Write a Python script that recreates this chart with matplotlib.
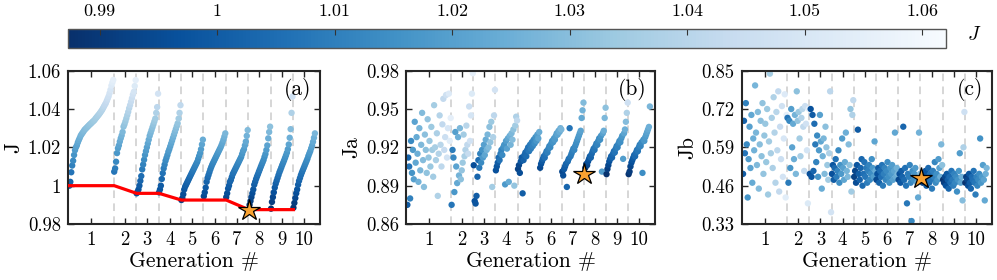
import numpy as np
import matplotlib
matplotlib.use('Agg')
import matplotlib.pyplot as plt
from matplotlib.ticker import FuncFormatter

plt.rcParams['font.family'] = 'serif'
plt.rcParams['font.serif'] = ['cmr10']
plt.rcParams['mathtext.fontset'] = 'cm'
plt.rcParams['axes.formatter.use_mathtext'] = True

# cost J of every individual, sorted within each generation
J_by_gen = [
    [1.000, 1.002, 1.007, 1.0105, 1.013, 1.016, 1.0185, 1.020, 1.021, 1.0225, 1.0237, 1.0248,
     1.026, 1.0268, 1.0275, 1.0282, 1.029, 1.0295, 1.030, 1.0305, 1.031, 1.0315, 1.032, 1.0324,
     1.0329, 1.0334, 1.0338, 1.0343, 1.035, 1.0356, 1.0362, 1.0368, 1.0374, 1.0381, 1.0388, 1.0395,
     1.0404, 1.0413, 1.0422, 1.043, 1.0442, 1.0454, 1.0466, 1.0482, 1.050, 1.0522, 1.0538, 1.0552],
    [1.0073, 1.009, 1.0125, 1.017, 1.0195, 1.021, 1.023, 1.0247, 1.0262, 1.028, 1.0308, 1.032,
     1.0335, 1.0351, 1.0368, 1.0385, 1.0404, 1.042, 1.0438, 1.0456, 1.0475, 1.049, 1.052, 1.0551],
    [0.996, 0.9968, 0.998, 1.000, 1.0025, 1.005, 1.0085, 1.011, 1.0135, 1.016, 1.018, 1.020,
     1.022, 1.024, 1.026, 1.0275, 1.029, 1.0305, 1.032, 1.0335, 1.035, 1.038, 1.041, 1.048],
    [0.9965, 0.998, 1.000, 1.0035, 1.0065, 1.009, 1.011, 1.013, 1.0145, 1.016, 1.0177, 1.019,
     1.0205, 1.022, 1.0235, 1.025, 1.0265, 1.028, 1.0295, 1.031, 1.0325, 1.035, 1.038, 1.042],
    [0.9925, 0.9935, 0.9955, 0.998, 0.9995, 1.0005, 1.0015, 1.0025, 1.0035, 1.0045, 1.0055, 1.0065,
     1.0075, 1.0085, 1.0095, 1.0105, 1.0115, 1.0125, 1.014, 1.0155, 1.017, 1.019, 1.0215, 1.024],
    [0.9945, 0.9965, 0.999, 1.002, 1.004, 1.0055, 1.007, 1.0085, 1.0098, 1.011, 1.012, 1.013,
     1.014, 1.015, 1.016, 1.017, 1.018, 1.019, 1.020, 1.0212, 1.0225, 1.024, 1.0256, 1.0273],
    [0.994, 0.996, 0.9985, 1.000, 1.002, 1.003, 1.0045, 1.006, 1.007, 1.008, 1.009, 1.010,
     1.011, 1.012, 1.013, 1.014, 1.015, 1.0165, 1.018, 1.019, 1.021, 1.023, 1.026, 1.029],
    [0.9875, 0.990, 0.992, 0.994, 0.996, 0.998, 1.0005, 1.002, 1.0035, 1.0048, 1.006, 1.0073,
     1.0085, 1.0098, 1.011, 1.0122, 1.0134, 1.015, 1.0165, 1.0186, 1.021, 1.0247, 1.028, 1.0308],
    [0.988, 0.9915, 0.994, 0.9965, 0.999, 1.001, 1.0025, 1.004, 1.0055, 1.007, 1.0082, 1.0095,
     1.0108, 1.012, 1.0132, 1.0145, 1.0158, 1.0172, 1.019, 1.0215, 1.025, 1.0295, 1.038, 1.0465],
    [0.9885, 0.991, 0.9935, 0.996, 0.998, 1.0005, 1.0025, 1.004, 1.0055, 1.0068, 1.008, 1.0092,
     1.0104, 1.0116, 1.0128, 1.014, 1.0155, 1.0168, 1.018, 1.0195, 1.021, 1.0229, 1.025, 1.0273],
]

# objective Ja, same individuals / order
Ja_by_gen = [
    [0.875, 0.912, 0.905, 0.880, 0.925, 0.900, 0.918, 0.895, 0.940, 0.908, 0.928, 0.915,
     0.893, 0.935, 0.902, 0.922, 0.947, 0.910, 0.889, 0.930, 0.918, 0.900, 0.942, 0.912,
     0.925, 0.905, 0.936, 0.918, 0.897, 0.953, 0.920, 0.910, 0.931, 0.882, 0.915, 0.945,
     0.922, 0.905, 0.938, 0.958, 0.918, 0.928, 0.961, 0.912, 0.935, 0.962, 0.925, 0.943],
    [0.875, 0.918, 0.912, 0.885, 0.932, 0.905, 0.892, 0.928, 0.898, 0.935, 0.895, 0.902,
     0.908, 0.930, 0.913, 0.918, 0.937, 0.922, 0.915, 0.952, 0.925, 0.945, 0.962, 0.978],
    [0.906, 0.878, 0.876, 0.882, 0.897, 0.910, 0.904, 0.915, 0.908, 0.918, 0.912, 0.922,
     0.914, 0.926, 0.918, 0.930, 0.920, 0.936, 0.924, 0.940, 0.889, 0.928, 0.945, 0.965],
    [0.902, 0.905, 0.908, 0.912, 0.910, 0.915, 0.918, 0.914, 0.920, 0.922, 0.891, 0.925,
     0.919, 0.927, 0.893, 0.929, 0.922, 0.931, 0.926, 0.934, 0.890, 0.937, 0.944, 0.941],
    [0.903, 0.906, 0.900, 0.909, 0.912, 0.884, 0.910, 0.914, 0.916, 0.913, 0.918, 0.920,
     0.917, 0.922, 0.919, 0.924, 0.921, 0.926, 0.923, 0.928, 0.925, 0.930, 0.927, 0.932],
    [0.904, 0.907, 0.909, 0.911, 0.913, 0.912, 0.915, 0.917, 0.916, 0.919, 0.921, 0.920,
     0.923, 0.925, 0.924, 0.927, 0.926, 0.929, 0.931, 0.930, 0.933, 0.932, 0.935, 0.934],
    [0.901, 0.898, 0.903, 0.905, 0.907, 0.889, 0.909, 0.911, 0.935, 0.913, 0.915, 0.917,
     0.919, 0.918, 0.921, 0.923, 0.925, 0.927, 0.929, 0.931, 0.933, 0.943, 0.949, 0.955],
    [0.899, 0.904, 0.907, 0.906, 0.909, 0.911, 0.913, 0.912, 0.915, 0.917, 0.919, 0.918,
     0.921, 0.923, 0.922, 0.925, 0.927, 0.926, 0.929, 0.901, 0.931, 0.933, 0.943, 0.951],
    [0.899, 0.903, 0.906, 0.909, 0.911, 0.913, 0.912, 0.915, 0.917, 0.916, 0.919, 0.921,
     0.920, 0.923, 0.925, 0.924, 0.927, 0.929, 0.911, 0.931, 0.934, 0.940, 0.947, 0.955],
    [0.899, 0.901, 0.905, 0.908, 0.910, 0.912, 0.914, 0.913, 0.916, 0.918, 0.917, 0.920,
     0.922, 0.921, 0.924, 0.900, 0.926, 0.925, 0.928, 0.930, 0.932, 0.934, 0.936, 0.952],
]

# objective Jb, same individuals / order
Jb_by_gen = [
    [0.50, 0.68, 0.57, 0.74, 0.60, 0.42, 0.55, 0.66, 0.52, 0.70, 0.47, 0.62,
     0.58, 0.80, 0.64, 0.53, 0.71, 0.45, 0.60, 0.68, 0.56, 0.74, 0.50, 0.63,
     0.67, 0.54, 0.72, 0.43, 0.61, 0.84, 0.57, 0.69, 0.52, 0.76, 0.64, 0.47,
     0.71, 0.58, 0.78, 0.44, 0.66, 0.55, 0.73, 0.49, 0.62, 0.77, 0.42, 0.70],
    [0.69, 0.47, 0.68, 0.52, 0.72, 0.59, 0.67, 0.55, 0.70, 0.50, 0.78, 0.68,
     0.71, 0.62, 0.56, 0.69, 0.72, 0.66, 0.51, 0.73, 0.67, 0.58, 0.40, 0.72],
    [0.50, 0.72, 0.49, 0.70, 0.51, 0.67, 0.60, 0.54, 0.63, 0.49, 0.58, 0.70,
     0.61, 0.45, 0.56, 0.62, 0.50, 0.66, 0.59, 0.53, 0.48, 0.57, 0.78, 0.37],
    [0.50, 0.53, 0.48, 0.52, 0.55, 0.49, 0.51, 0.58, 0.47, 0.53, 0.50, 0.62,
     0.52, 0.48, 0.54, 0.64, 0.51, 0.49, 0.60, 0.53, 0.72, 0.44, 0.70, 0.75],
    [0.49, 0.51, 0.47, 0.53, 0.65, 0.50, 0.48, 0.52, 0.55, 0.46, 0.50, 0.54,
     0.49, 0.52, 0.47, 0.51, 0.53, 0.48, 0.50, 0.55, 0.52, 0.49, 0.61, 0.51],
    [0.48, 0.50, 0.52, 0.47, 0.51, 0.49, 0.53, 0.46, 0.50, 0.52, 0.48, 0.51,
     0.54, 0.49, 0.47, 0.52, 0.50, 0.53, 0.48, 0.51, 0.64, 0.49, 0.52, 0.50],
    [0.48, 0.50, 0.47, 0.51, 0.49, 0.66, 0.48, 0.52, 0.46, 0.40, 0.50, 0.49,
     0.53, 0.47, 0.34, 0.51, 0.48, 0.50, 0.52, 0.49, 0.47, 0.42, 0.64, 0.50],
    [0.486, 0.49, 0.47, 0.50, 0.48, 0.51, 0.46, 0.49, 0.52, 0.47, 0.50, 0.48,
     0.45, 0.51, 0.49, 0.54, 0.47, 0.50, 0.48, 0.55, 0.52, 0.49, 0.60, 0.53],
    [0.48, 0.47, 0.49, 0.46, 0.50, 0.48, 0.45, 0.49, 0.47, 0.51, 0.48, 0.46,
     0.50, 0.47, 0.49, 0.44, 0.48, 0.51, 0.57, 0.47, 0.49, 0.41, 0.59, 0.71],
    [0.47, 0.49, 0.48, 0.46, 0.50, 0.47, 0.45, 0.49, 0.48, 0.51, 0.47, 0.43,
     0.49, 0.46, 0.48, 0.50, 0.62, 0.47, 0.49, 0.53, 0.48, 0.41, 0.50, 0.52],
]

gen_labels = [1, 2, 3, 4, 5, 6, 7, 8, 9, 10]
cbar_ticks = [0.99, 1.00, 1.01, 1.02, 1.03, 1.04, 1.05, 1.06]
J_ticks = [0.98, 1.00, 1.02, 1.04, 1.06]
Ja_ticks = [0.86, 0.89, 0.92, 0.95, 0.98]
Jb_ticks = [0.33, 0.46, 0.59, 0.72, 0.85]

# --- flatten ---
sizes = np.array([len(g) for g in J_by_gen])
starts = np.concatenate([[0], np.cumsum(sizes)[:-1]])
J = np.concatenate(J_by_gen)
Ja = np.concatenate(Ja_by_gen)
Jb = np.concatenate(Jb_by_gen)
x = np.arange(len(J))
best = int(np.argmin(J))
best_so_far = np.minimum.accumulate([min(g) for g in J_by_gen])

vmin, vmax = 0.9873, 1.0620
cmap = 'Blues_r'
fmt = FuncFormatter(lambda v, p: f'{v:g}')

fig = plt.figure(figsize=(9.97, 2.8), dpi=100)


def panel(rect, y, ylim, yticks, ylabel, tag):
    ax = fig.add_axes(rect)
    for b in starts[1:]:
        ax.axvline(b - 0.5, color='#cccccc', ls=(0, (5, 3.5)), lw=1.1, zorder=0)
    sc = ax.scatter(x, y, c=J, cmap=cmap, vmin=vmin, vmax=vmax, s=21, lw=0, zorder=2)
    ax.set_xlim(-1.5, 268.5)
    ax.set_ylim(*ylim)
    ax.set_yticks(yticks)
    ax.yaxis.set_major_formatter(fmt)
    ax.set_xticks(starts + (sizes - 1) / 2)
    ax.set_xticklabels(gen_labels)
    ax.tick_params(direction='in', top=True, right=True, labelsize=13.5,
                   length=4, width=1, color='#262626', pad=5)
    ax.set_xlabel('Generation #', fontsize=15.5, labelpad=2)
    ax.set_ylabel(ylabel, fontsize=15.5, labelpad=3)
    ax.text(0.965, 0.95, tag, transform=ax.transAxes, ha='right', va='top', fontsize=15.5)
    for s in ax.spines.values():
        s.set_linewidth(1.5)
        s.set_color('#262626')
    return ax, sc


ax_a, sc = panel([0.0682, 0.2, 0.2528, 0.5475], J, (0.98, 1.06), J_ticks, 'J', '(a)')
ax_a.plot(x[starts], best_so_far, color='#ff0000', lw=2.3, zorder=3)
ax_a.plot(x[best], J[best], marker='*', ms=16, mfc='#f9a231', mec='k', mew=0.9, zorder=5)

ax_b, _ = panel([0.4072, 0.2, 0.2497, 0.5475], Ja, (0.86, 0.98), Ja_ticks, 'Ja', '(b)')
ax_b.plot(x[best], Ja[best], marker='*', ms=16, mfc='#f9a231', mec='k', mew=0.9, zorder=5)

ax_c, _ = panel([0.7439, 0.2, 0.2508, 0.5475], Jb, (0.33, 0.85), Jb_ticks, 'Jb', '(c)')
ax_c.plot(x[best], Jb[best], marker='*', ms=16, mfc='#f9a231', mec='k', mew=0.9, zorder=5)

cax = fig.add_axes([0.0682, 0.8286, 0.8806, 0.0679])
cb = fig.colorbar(sc, cax=cax, orientation='horizontal', ticks=cbar_ticks)
cax.xaxis.set_ticks_position('top')
cax.xaxis.set_major_formatter(fmt)
cax.tick_params(direction='in', length=4, width=0.8, labelsize=13, pad=7, color='#333333')
cb.outline.set_edgecolor('#555555')
cb.outline.set_linewidth(1.0)
fig.text(0.977, 0.875, '$J$', fontsize=14, ha='center', va='center')

fig.savefig('out.png', dpi=100)
